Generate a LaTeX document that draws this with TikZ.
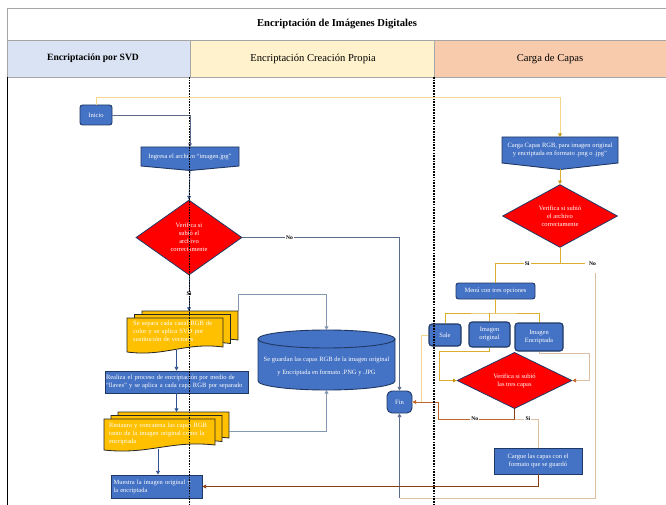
\documentclass[tikz,border=0pt]{standalone}
\usepackage{fontspec}
\setmainfont{Liberation Serif}
\usetikzlibrary{shapes.geometric, arrows.meta, calc}

\definecolor{boxblue}{HTML}{4472C4}
\definecolor{navy}{HTML}{203864}
\definecolor{docyellow}{HTML}{FFC000}
\definecolor{laneblue}{HTML}{DAE3F3}
\definecolor{laneyellow}{HTML}{FFF2CC}
\definecolor{laneorange}{HTML}{F8CBAD}
\definecolor{hdrgray}{HTML}{A6A6A6}
\definecolor{lnblue}{HTML}{2F528F}
\definecolor{lngray}{HTML}{8497B0}
\definecolor{lnslate}{HTML}{5B6B8C}
\definecolor{lngold}{HTML}{DDAE2E}
\definecolor{lngoldlight}{HTML}{F5D68A}
\definecolor{tipgold}{HTML}{C59A10}
\definecolor{lntan}{HTML}{DDBFA3}
\definecolor{lnbrown}{HTML}{C0652A}
\definecolor{lndarkbrown}{HTML}{8B3E12}

\newcommand{\smallfs}{\fontsize{6.5}{8}\selectfont}
\newcommand{\lblfs}{\bfseries\fontsize{5.6}{6}\selectfont}

% one sheet of a multi-document symbol: top-left corner, right edge, left bottom
\newcommand{\sheet}[4]{\filldraw[docsheet] (#1,#2) -- (#3,#2) -- (#3,{#4-5})
  .. controls ({#1+0.6*(#3-#1)},{#4-10}) and ({#1+0.4*(#3-#1)},{#4+5}) .. (#1,#4) -- cycle;}

\begin{document}
\begin{tikzpicture}[x=1pt,y=-1pt,
  proc/.style={draw=navy, fill=boxblue, text=white, line width=0.9pt, font=\smallfs,
    align=center, inner sep=1pt},
  rproc/.style={proc, rounded corners=2.5pt},
  decision/.style={diamond, draw=navy, fill=red, text=white, line width=0.8pt,
    font=\smallfs, align=center, inner sep=0pt},
  docsheet/.style={draw=black!85, fill=docyellow, line width=0.8pt},
  hold/.style={inner sep=0pt, outer sep=0pt, draw=none},
  doctext/.style={text=white, font=\smallfs, align=left, inner sep=0pt, anchor=north west},
  lbl/.style={font=\lblfs, fill=white, inner sep=1.2pt, text=black},
  line/.style={line width=0.75pt},
  conn/.style={line, -{Triangle[length=3.6pt, width=3.8pt]}},
  hdr/.style={draw=hdrgray, line width=0.8pt},
  lanediv/.style={draw=black, line width=1.3pt, dash pattern=on 1.6pt off 1.1pt}
]
\useasboundingbox (0,0) rectangle (666,505);
\fill[white] (0,0) rectangle (666,505);

% ---------- header table ----------
\draw[hdr] (7,8) rectangle (666,40);
\node[font=\bfseries\fontsize{10.6}{12}\selectfont] (title) at (337,23.5) {Encriptación de Imágenes Digitales};
\filldraw[hdr, fill=laneblue] (7,40) rectangle (190,77);
\filldraw[hdr, fill=laneyellow] (190,40) rectangle (434.5,77);
\filldraw[hdr, fill=laneorange] (434.5,40) rectangle (666,77);
\node[font=\bfseries\fontsize{9.6}{11}\selectfont] (laneA) at (93,58.5) {Encriptación por SVD};
\node[font=\fontsize{10.6}{12}\selectfont] (laneB) at (313,58.5) {Encriptación Creación Propia};
\node[font=\fontsize{10.6}{12}\selectfont] (laneC) at (550,58.5) {Carga de Capas};
\draw[black, line width=1pt] (7,77) -- (7,505);

% ---------- SVD lane ----------
\node[rproc, minimum width=32pt, minimum height=20pt] (inicio) at (96,115) {Inicio};

\filldraw[proc] (141,147) -- (239,147) -- (239,166) -- (190,170.5) -- (141,166) -- cycle;
\node[hold, text=white, font=\smallfs, minimum width=98pt, minimum height=19pt] (ingresa) at (190,156.5)
  {Ingresa el archivo “imagen.jpg”};
\coordinate (ingresaTip) at (190,170.5);

\node[decision, minimum width=106pt, minimum height=75pt] (d1) at (189,237.5)
  {Verifica si\\subió el\\archivo\\correctamente};

% first multi-document
\sheet{142}{311}{238}{345}
\sheet{134.5}{314.5}{230.5}{348.5}
\sheet{127}{318}{223}{352}
\node[hold, minimum width=96pt, minimum height=34pt] (sepB) at (190,328) {};
\node[doctext, text width=90pt] (sep) at (133,321)
  {Se separa cada canal RGB de\\color y se aplica SVD por\\sustitución de vectores};
\coordinate (sepBot) at (176.5,349.5);

\node[proc, minimum width=143pt, minimum height=22pt, text width=141pt, align=left] (realiza) at (176.5,382)
  {Realiza el proceso de encriptación por medio de\\“llaves” y se aplica a cada capa RGB por separado};

% second multi-document
\sheet{118}{412}{229}{443}
\sheet{111}{415.5}{222}{446.5}
\sheet{104}{419}{215}{450}
\node[hold, minimum width=111pt, minimum height=31pt] (resB) at (173.5,427.5) {};
\node[doctext, text width=106pt] (res) at (109,422.5)
  {Restaura y concatena las capas RGB\\tanto de la imagen original como la\\encriptada};
\coordinate (resBot) at (158,448.5);

\node[proc, minimum width=91pt, minimum height=23pt, text width=86pt, align=left] (muestra) at (156.5,486.5)
  {Muestra la imagen original y\\la encriptada};

% ---------- own-encryption lane ----------
\filldraw[proc] (258,339) -- (258,381)
  arc[start angle=180, end angle=360, x radius=68.5pt, y radius=9pt] -- (395,339) -- cycle;
\filldraw[proc] (326.5,339) ellipse [x radius=68.5pt, y radius=9pt];
\node[hold, text=white, font=\smallfs, align=center, minimum width=137pt, minimum height=30pt] (db) at (326.5,366)
  {Se guardan las capas RGB de la imagen original\\[5pt]y Encriptada en formato .PNG y .JPG};
\coordinate (dbTop) at (326.5,330);
\coordinate (dbBot) at (326.5,390);

\node[proc, rounded corners=5pt, minimum width=25pt, minimum height=22pt] (fin) at (399.5,402) {Fin};

% ---------- layer-loading lane ----------
\filldraw[proc] (502,137) -- (618,137) -- (618,163) -- (560,169.5) -- (502,163) -- cycle;
\node[hold, text=white, font=\smallfs, align=center, minimum width=116pt, minimum height=26pt] (carga) at (560,150)
  {Carga Capas RGB, para imagen original\\y encriptada en formato .png o .jpg”};
\coordinate (cargaTip) at (560,169.5);

\node[decision, minimum width=115pt, minimum height=62pt] (d2) at (560,216)
  {Verifica si subió\\el archivo\\correctamente};

\node[rproc, minimum width=79pt, minimum height=16pt] (menu) at (495.5,291) {Menú con tres opciones};
\node[rproc, rounded corners=3pt, line width=1.1pt, minimum width=32pt, minimum height=22pt] (sale) at (445,335) {Sale};
\node[rproc, rounded corners=3pt, line width=1.1pt, minimum width=41pt, minimum height=25pt] (iorig) at (489.5,334.5) {Imagen\\original};
\node[rproc, rounded corners=3pt, line width=1.1pt, minimum width=48pt, minimum height=28pt] (ienc) at (539,337) {Imagen\\Encriptada};

\node[decision, minimum width=115pt, minimum height=51pt] (d3) at (514.5,380.5)
  {Verifica si subió\\las tres capas};

\node[proc, minimum width=88pt, minimum height=26pt] (cargue) at (538,461)
  {Cargue las capas con el\\formato que se guardó};

% ---------- connectors ----------
\draw[conn, lnslate] (inicio.east) -| (ingresa.north);
\draw[conn, lngoldlight, -{Triangle[length=3.6pt, width=3.8pt, color=tipgold]}]
  (inicio.north) -- (96,97) -| (carga.north);
\draw[conn, lnblue] (ingresaTip) -- (d1.north);
\draw[conn, lnslate] (d1.east) -- node[lbl, pos=0.3] {No} (d1.east -| fin.north) -- (fin.north);
\draw[conn, lnblue] (d1.south) -- node[lbl, pos=0.52] {Si} (d1.south |- sepB.north);
\draw[conn, lngray] (sepB.north east) -- ++(0,-17) -| (dbTop);
\draw[conn, lnblue] (sepBot) -- (realiza.north);
\draw[conn, lnblue] (realiza.south) -- (realiza.south |- resB.north);
\draw[conn, lngray] ($(resB.east)+(0,4)$) -| (dbBot);
\draw[conn, lnblue] (resBot) -- (resBot |- muestra.north);

\draw[conn, lngold, -{Triangle[length=3.6pt, width=3.8pt, color=tipgold]}] (cargaTip) -- (d2.north);
\coordinate (j2) at (560,263.5);
\draw[line, lngold] (d2.south) -- (j2) -- node[lbl, pos=0.51] {Si} (j2 -| menu.north) -- (menu.north);
\draw[line, lngold] (j2) -- (585,263.5);
\node[lbl, fill=none] (no2) at (592.5,264) {No};
\coordinate (n2a) at (595,273);
\coordinate (n2b) at (399.5,498);
\draw[line, lntan] (n2a) |- (n2b);
\draw[conn, lnslate] (n2b) -- (fin.south);

\coordinate (mj) at (495.5,313);
\draw[line, lngold] (menu.south) -- (mj);
\draw[line, lngold] (sale.north) |- (mj) -| (ienc.north);
\draw[line, lngold] (iorig.north) -- (iorig.north |- mj);

\draw[line, lngoldlight] (sale.west) -- (421,335) -- (421,402) -- (fin.east);
\draw[conn, lngold, -{Triangle[length=3.6pt, width=3.8pt, color=tipgold]}]
  (iorig.south) -- ++(0,4) -| (439,380.5) -- (d3.west);
\draw[conn, lntan, -{Triangle[length=3.6pt, width=3.8pt, color=lnbrown]}]
  (ienc.south) -- ++(0,2) -| (589,380.5) -- (d3.east);

\coordinate (j3) at (514.5,419);
\draw[conn, lnbrown] (j3) -- node[lbl, pos=0.52] {No} (438,419) -- (438,402) -- (fin.east);
\draw[line, lndarkbrown] (d3.south) -- (j3);
\draw[line, lntan] (j3) -- node[lbl, pos=0.57] {Si} (538,419) -- (cargue.north);
\draw[conn, lndarkbrown] (cargue.south) |- (muestra.east);

% ---------- lane dividers (drawn over everything) ----------
\draw[lanediv] (189.5,77) -- (189.5,505);
\draw[lanediv] (434,77) -- (434,505);
\end{tikzpicture}
\end{document}
